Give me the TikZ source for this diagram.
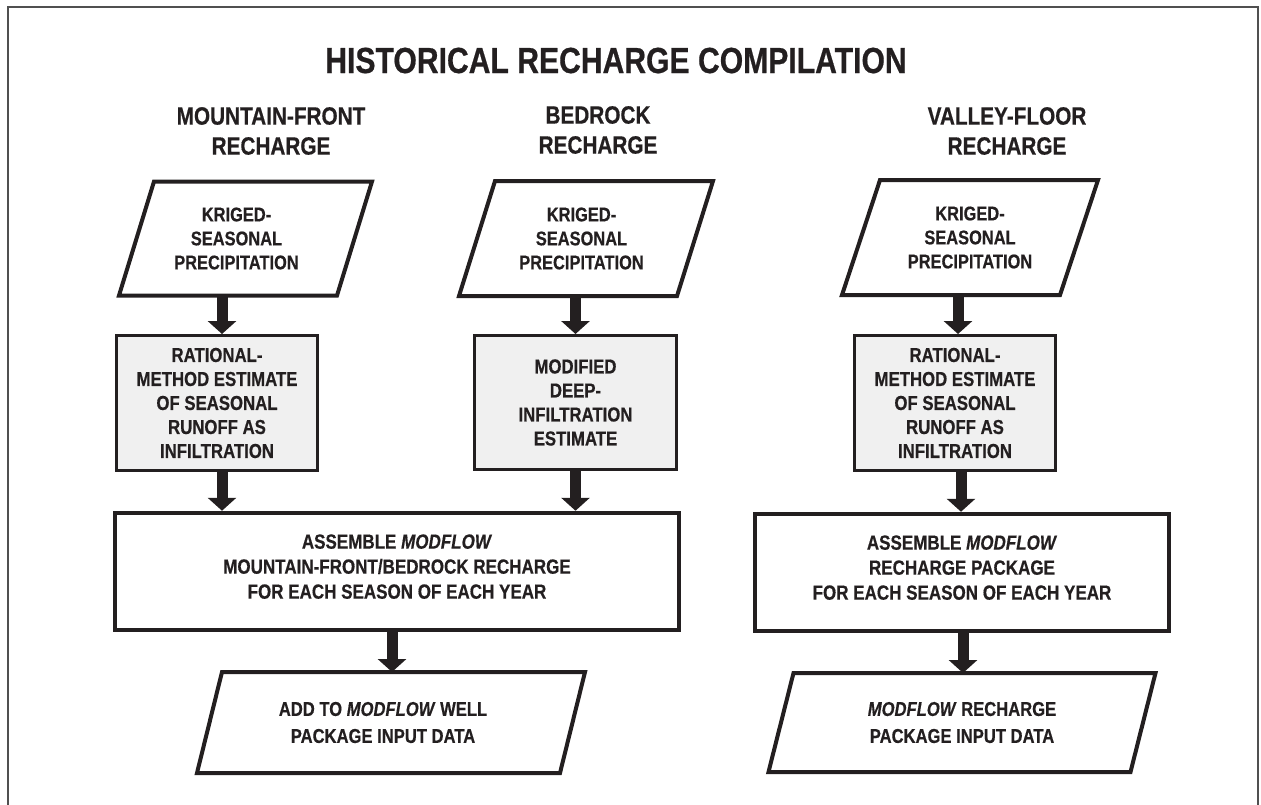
\documentclass[tikz,border=0pt]{standalone}
\usepackage{fontspec}
\setmainfont{Liberation Sans}[FakeStretch=0.83, BoldFeatures={FakeBold=0.5}, BoldItalicFeatures={FakeBold=0.5}]
\usetikzlibrary{arrows.meta}
\definecolor{ink}{RGB}{35,31,32}
\definecolor{boxgray}{RGB}{240,240,240}
\definecolor{framegray}{RGB}{80,80,80}
\tikzset{
  bodytext/.style={font=\fontsize{19.8}{24}\selectfont\bfseries, text=ink, align=center, inner sep=0pt},
  headtext/.style={font=\fontsize{25}{30}\selectfont\bfseries, text=ink, align=center, inner sep=0pt},
  titletext/.style={font=\fontsize{36.3}{40}\selectfont\bfseries, text=ink, inner sep=0pt},
  paranode/.style={bodytext, outer sep=0pt},
  paraline/.style={draw=ink, line width=4pt, line join=miter},
  graybox/.style={bodytext, font=\fontsize{20.2}{24}\selectfont\bfseries, draw=ink, fill=boxgray, line width=3pt, minimum width=201pt, minimum height=135pt},
  bigbox/.style={bodytext, font=\fontsize{20.5}{25}\selectfont\bfseries, draw=ink, line width=4.5pt, minimum height=117pt},
  bigarrow/.style={draw=ink, line width=11pt, -{Triangle[width=28pt,length=13pt]}},
  framepen/.style={draw=framegray, line width=2pt}
}
% #1 node, #2 shift of the shape centre, #3 half slant
\newcommand\slantframe[3]{%
  \draw[paraline] ([xshift=#2+#3]#1.north west) -- ([xshift=#2+#3]#1.north east)
    -- ([xshift=#2-#3]#1.south east) -- ([xshift=#2-#3]#1.south west) -- cycle;}
\begin{document}
\begin{tikzpicture}[x=1pt,y=-1pt]
\useasboundingbox (0,0) rectangle (1261,804);
\draw[framepen] (8,806) -- (8,7) -- (1258,7) -- (1258,806);

\node[titletext, anchor=base] (title) at (616,73) {HISTORICAL RECHARGE COMPILATION};

\node[headtext] (h1) at (271,131) {MOUNTAIN-FRONT\\RECHARGE};
\node[headtext] (h2) at (598,130) {BEDROCK\\RECHARGE};
\node[headtext] (h3) at (1007,131) {VALLEY-FLOOR\\RECHARGE};

% top parallelograms
\node[paranode, minimum width=218pt, minimum height=114pt] (p1) at (236.5,238.5) {KRIGED-\\SEASONAL\\PRECIPITATION};
\node[paranode, minimum width=218pt, minimum height=115pt] (p2) at (581.5,238.5) {KRIGED-\\SEASONAL\\PRECIPITATION};
\node[paranode, minimum width=218pt, minimum height=115pt] (p3) at (970,237.5) {KRIGED-\\SEASONAL\\PRECIPITATION};
\slantframe{p1}{9pt}{17.5pt}
\slantframe{p2}{4.5pt}{18pt}
\slantframe{p3}{0pt}{19pt}

% gray boxes
\node[graybox] (g1) at (217,403) {RATIONAL-\\METHOD ESTIMATE\\OF SEASONAL\\RUNOFF AS\\INFILTRATION};
\node[graybox, minimum width=202pt, minimum height=134pt] (g2) at (575.5,402.5) {MODIFIED\\DEEP-\\INFILTRATION\\ESTIMATE};
\node[graybox] (g3) at (955,403) {RATIONAL-\\METHOD ESTIMATE\\OF SEASONAL\\RUNOFF AS\\INFILTRATION};

% big boxes
\node[bigbox, minimum width=564pt] (b1) at (397,571.5) {ASSEMBLE \textit{MODFLOW}\\MOUNTAIN-FRONT/BEDROCK RECHARGE\\FOR EACH SEASON OF EACH YEAR\\[-15pt]};
\node[bigbox, minimum width=414pt] (b2) at (962,572.5) {ASSEMBLE \textit{MODFLOW}\\RECHARGE PACKAGE\\FOR EACH SEASON OF EACH YEAR\\[-15pt]};

% bottom parallelograms
\node[paranode, font=\fontsize{20}{27}\selectfont\bfseries, minimum width=363pt, minimum height=101pt] (l1) at (383,722.5) {ADD TO \textit{MODFLOW} WELL\\PACKAGE INPUT DATA};
\node[paranode, font=\fontsize{20}{27}\selectfont\bfseries, minimum width=362pt, minimum height=99pt] (l2) at (962,722.5) {\textit{MODFLOW} RECHARGE\\PACKAGE INPUT DATA};
\slantframe{l1}{8pt}{12.5pt}
\slantframe{l2}{0pt}{12.5pt}

% arrows
\draw[bigarrow] ([xshift=5pt]g1.north |- p1.south) -- ([xshift=5pt]g1.north);
\draw[bigarrow] ([xshift=5pt]g1.south) -- ([xshift=5pt]g1.south |- b1.north);
\draw[bigarrow] (g2.north |- p2.south) -- (g2.north);
\draw[bigarrow] (g2.south) -- (g2.south |- b1.north);
\draw[bigarrow] ([xshift=3pt]g3.north |- p3.south) -- ([xshift=3pt]g3.north);
\draw[bigarrow] ([xshift=6pt]g3.south) -- ([xshift=6pt]g3.south |- b2.north);
\draw[bigarrow] ([xshift=-5pt]b1.south) -- ([xshift=-5pt]b1.south |- l1.north);
\draw[bigarrow] ([xshift=1pt]b2.south) -- ([xshift=1pt]b2.south |- l2.north);
\end{tikzpicture}
\end{document}
